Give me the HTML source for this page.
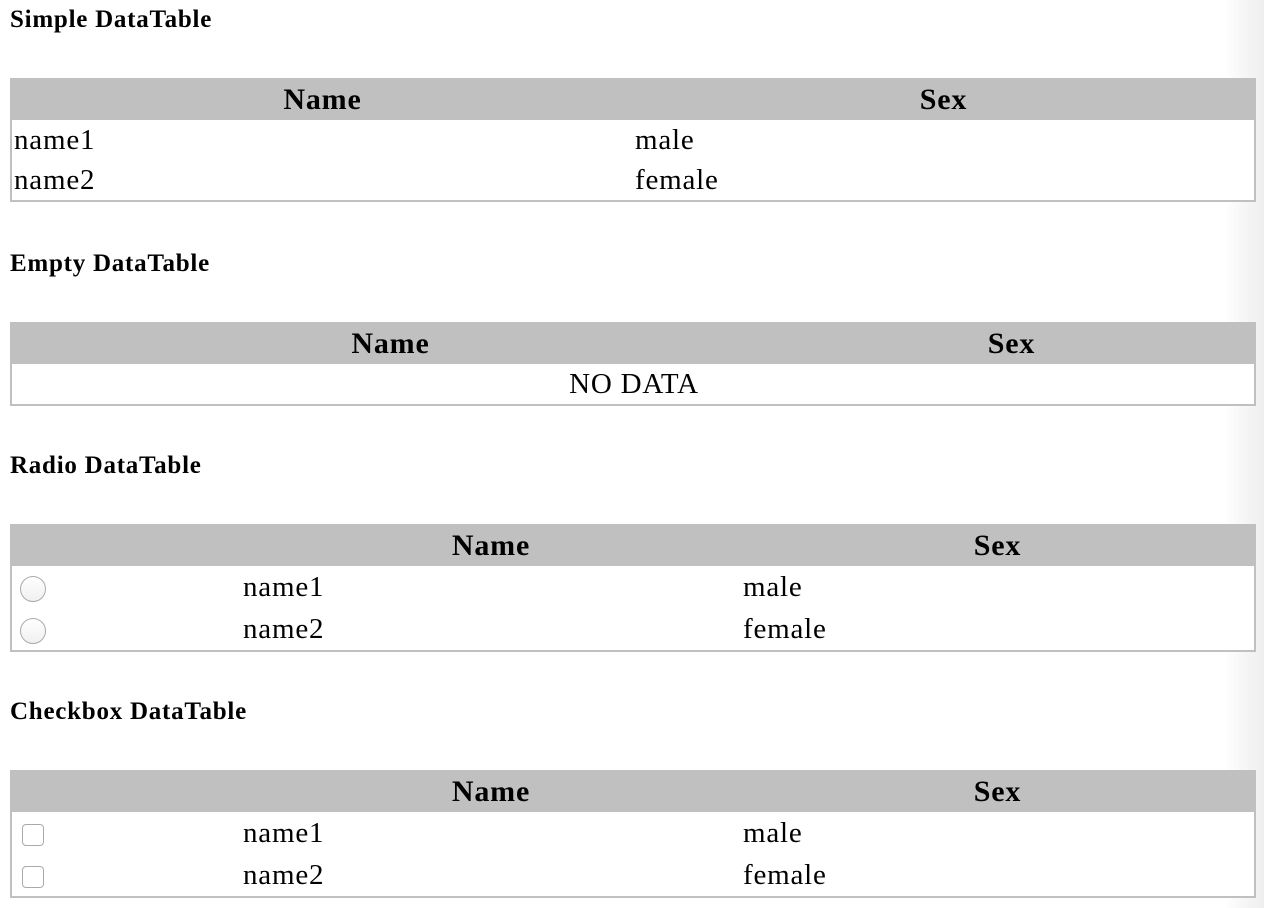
<!DOCTYPE html>
<html><head><style>
body{margin:0;width:1264px;height:908px;position:relative;background:#fff;font-family:"Liberation Serif",serif;overflow:hidden}
h4{position:absolute;left:10px;margin:0;font-size:25px;font-weight:bold;line-height:26px;letter-spacing:0.75px}
table{position:absolute;left:10px;width:1246px;border:2px solid #c0c0c0;border-collapse:collapse;table-layout:fixed;font-size:29px;line-height:32px;background:#fff;letter-spacing:0.8px}
th{background:#c0c0c0;height:40px;padding:0;font-weight:bold;text-align:center;font-size:30px;letter-spacing:0.8px}
td{padding:0 0 0 2px;height:40px;text-align:left}
.r td{height:42px}
.rad{display:inline-block;width:24px;height:24px;border:1px solid #aaa;border-radius:50%;vertical-align:middle;background:linear-gradient(#fff,#f0f0f0);margin-left:6px}
.chk{display:inline-block;width:20px;height:20px;border:1px solid #aaa;border-radius:4px;vertical-align:middle;background:#fff;margin-left:8px}
.shade{position:absolute;right:0;top:0;width:40px;height:908px;background:linear-gradient(to right,rgba(240,240,240,0),rgba(238,238,238,1))}
</style></head><body>
<div class="shade"></div>
<h4 style="top:7px">Simple DataTable</h4>
<table style="top:78px"><colgroup><col style="width:622px"><col></colgroup>
<tr><th>Name</th><th>Sex</th></tr>
<tr><td>name1</td><td>male</td></tr>
<tr><td>name2</td><td>female</td></tr></table>

<h4 style="top:251px">Empty DataTable</h4>
<table style="top:322px"><colgroup><col style="width:758px"><col></colgroup>
<tr><th>Name</th><th>Sex</th></tr>
<tr><td colspan="2" style="text-align:center">NO DATA</td></tr></table>

<h4 style="top:453px">Radio DataTable</h4>
<table class="r" style="top:524px"><colgroup><col style="width:230px"><col style="width:500px"><col></colgroup>
<tr><th></th><th>Name</th><th>Sex</th></tr>
<tr><td><span class="rad"></span></td><td>name1</td><td>male</td></tr>
<tr><td><span class="rad"></span></td><td>name2</td><td>female</td></tr></table>

<h4 style="top:699px">Checkbox DataTable</h4>
<table class="r" style="top:770px"><colgroup><col style="width:230px"><col style="width:500px"><col></colgroup>
<tr><th></th><th>Name</th><th>Sex</th></tr>
<tr><td><span class="chk"></span></td><td>name1</td><td>male</td></tr>
<tr><td><span class="chk"></span></td><td>name2</td><td>female</td></tr></table>
</body></html>
